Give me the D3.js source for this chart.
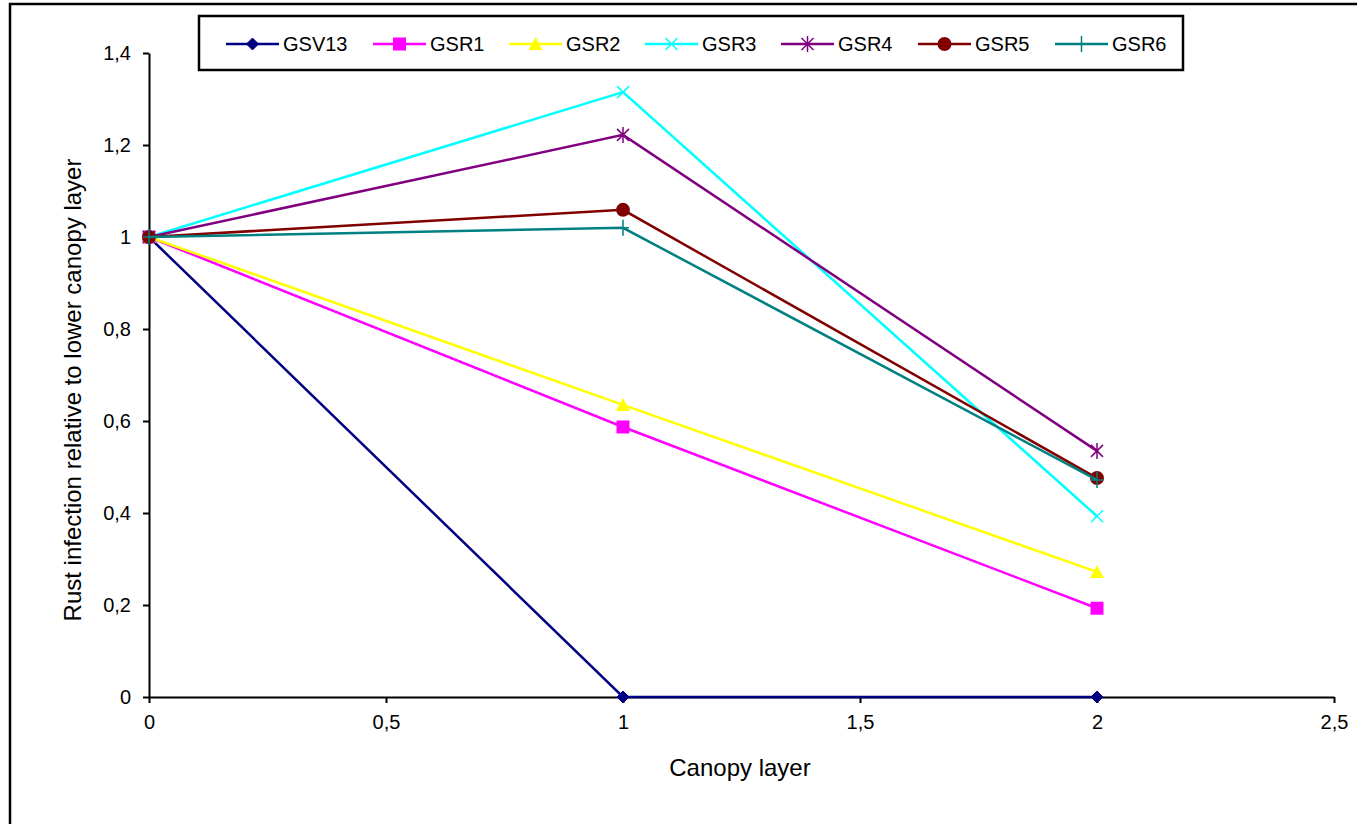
<!DOCTYPE html>
<html>
<head>
<meta charset="utf-8">
<script src="https://cdn.jsdelivr.net/npm/d3@7"></script>
<style>
  html, body { margin: 0; padding: 0; background: #fff; }
  svg { display: block; font-family: "Liberation Sans", Arial, sans-serif; }
</style>
</head>
<body>
<svg id="chart" width="1357" height="824"></svg>
<script>
// Canopy layers (x positions)
const layers = [0, 1, 2];

// Rust infection relative to the lower canopy layer, per genotype
const GSV13 = [1, 0, 0];
const GSR1 = [1, 0.587, 0.193];
const GSR2 = [1, 0.635, 0.272];
const GSR3 = [1, 1.315, 0.393];
const GSR4 = [1, 1.222, 0.535];
const GSR5 = [1, 1.059, 0.476];
const GSR6 = [1, 1.020, 0.472];

const seriesNames = ["GSV13", "GSR1", "GSR2", "GSR3", "GSR4", "GSR5", "GSR6"];
const seriesValues = [GSV13, GSR1, GSR2, GSR3, GSR4, GSR5, GSR6];
const seriesColors = ["#000080", "#ff00ff", "#ffff00", "#00ffff", "#800080", "#800000", "#008080"];
const seriesMarkers = ["diamond", "square", "triangle", "x", "star", "circle", "plus"];

// Axis ticks
const xTicks = [0, 0.5, 1, 1.5, 2, 2.5];
const yTicks = [0, 0.2, 0.4, 0.6, 0.8, 1, 1.2, 1.4];

const svg = d3.select("#chart");
const margin = { left: 149, right: 1334, top: 53, bottom: 697 };

const x = d3.scaleLinear().domain([0, 2.5]).range([margin.left, margin.right]);
const y = d3.scaleLinear().domain([0, 1.4]).range([margin.bottom, margin.top]);

const fmt = d => String(d).replace(".", ",");

// Outer chart frame
svg.append("rect")
  .attr("x", 10).attr("y", 4)
  .attr("width", 1400).attr("height", 900)
  .attr("fill", "none").attr("stroke", "#000").attr("stroke-width", 2.5);

// Y axis
const yAxis = svg.append("g")
  .attr("transform", `translate(${margin.left},0)`)
  .call(d3.axisLeft(y).tickValues(yTicks).tickFormat(fmt).tickSize(6).tickSizeOuter(0).tickPadding(12));
// X axis
const xAxis = svg.append("g")
  .attr("transform", `translate(0,${margin.bottom})`)
  .call(d3.axisBottom(x).tickValues(xTicks).tickFormat(fmt).tickSize(6).tickSizeOuter(0).tickPadding(12));

[yAxis, xAxis].forEach(g => {
  g.attr("font-size", 20).attr("font-family", "'Liberation Sans', Arial, sans-serif");
  g.selectAll("path, line").attr("stroke", "#000").attr("stroke-width", 2);
  g.selectAll("text").attr("fill", "#000");
});

// Axis titles
svg.append("text")
  .attr("x", 740).attr("y", 776)
  .attr("text-anchor", "middle").attr("font-size", 24).text("Canopy layer");
svg.append("text")
  .attr("transform", `translate(81,390) rotate(-90)`)
  .attr("text-anchor", "middle").attr("font-size", 24)
  .text("Rust infection relative to lower canopy layer");

// Marker drawing
function drawMarker(g, type, color) {
  switch (type) {
    case "diamond":
      g.append("path").attr("d", "M0,-6L6,0L0,6L-6,0Z").attr("fill", color).attr("stroke", color);
      break;
    case "square":
      g.append("rect").attr("x", -6.5).attr("y", -6.5).attr("width", 13).attr("height", 13).attr("fill", color);
      break;
    case "triangle":
      g.append("path").attr("d", "M0,-7L7,6L-7,6Z").attr("fill", color);
      break;
    case "circle":
      g.append("circle").attr("r", 7).attr("fill", color);
      break;
    case "x":
      g.append("path").attr("d", "M-6,-6L6,6M-6,6L6,-6").attr("stroke", color).attr("stroke-width", 1.5);
      break;
    case "star":
      g.append("path").attr("d", "M-6,-6L6,6M-6,6L6,-6M0,-8L0,8").attr("stroke", color).attr("stroke-width", 1.5);
      break;
    case "plus":
      g.append("path").attr("d", "M0,-8L0,8M-6,0L6,0").attr("stroke", color).attr("stroke-width", 1.5);
      break;
  }
}

const line = d3.line().x((d, i) => x(layers[i])).y(d => y(d));

seriesValues.forEach((vals, si) => {
  const color = seriesColors[si];
  svg.append("path")
    .datum(vals)
    .attr("d", line)
    .attr("fill", "none")
    .attr("stroke", color)
    .attr("stroke-width", 2.5);
  vals.forEach((v, i) => {
    const g = svg.append("g").attr("transform", `translate(${x(layers[i])},${y(v)})`);
    drawMarker(g, seriesMarkers[si], color);
  });
});

// Legend
const legend = svg.append("g");
legend.append("rect")
  .attr("x", 199).attr("y", 16).attr("width", 984).attr("height", 54)
  .attr("fill", "#fff").attr("stroke", "#000").attr("stroke-width", 2.5);
const legendStarts = [226, 373, 509, 645, 781, 918, 1055];
seriesNames.forEach((name, si) => {
  const lx = legendStarts[si];
  const ly = 44;
  legend.append("line")
    .attr("x1", lx).attr("x2", lx + 53).attr("y1", ly).attr("y2", ly)
    .attr("stroke", seriesColors[si]).attr("stroke-width", 2.5);
  const g = legend.append("g").attr("transform", `translate(${lx + 26.5},${ly})`);
  drawMarker(g, seriesMarkers[si], seriesColors[si]);
  legend.append("text")
    .attr("x", lx + 57).attr("y", ly + 7)
    .attr("font-size", 20).text(name);
});
</script>
</body>
</html>
